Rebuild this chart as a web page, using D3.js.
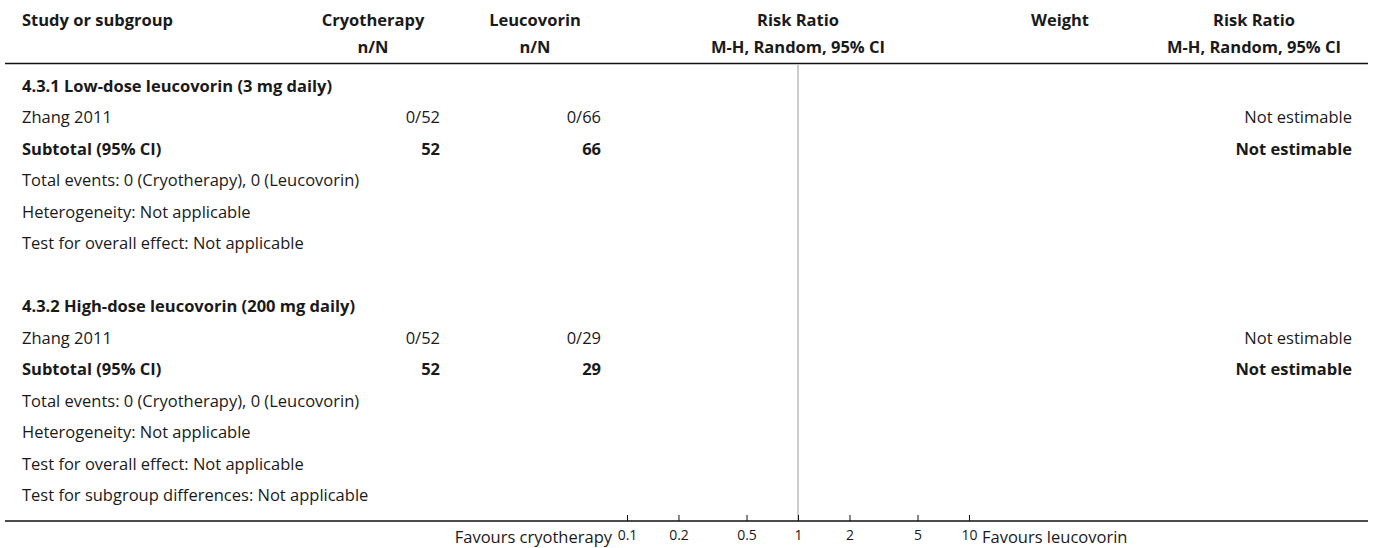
<!DOCTYPE html>
<html>
<head>
<meta charset="utf-8">
<script src="https://cdn.jsdelivr.net/npm/d3@7"></script>
<style>
  body { margin: 0; background: #fff; }
  svg text { font-family: "Open Sans", "Noto Sans", sans-serif; fill: #1a1a1a; }
</style>
</head>
<body>
<div id="chart"></div>
<script>
// data
const subgroups = ["4.3.1 Low-dose leucovorin (3 mg daily)", "4.3.2 High-dose leucovorin (200 mg daily)"];
const studies = ["Zhang 2011", "Zhang 2011"];
const cryoEvents = [0, 0];
const cryoTotals = [52, 52];
const leucoEvents = [0, 0];
const leucoTotals = [66, 29];
const estimates = ["Not estimable", "Not estimable"];
const rrTicks = [0.1, 0.2, 0.5, 1, 2, 5, 10];

const width = 1373;
const height = 548;
const fs = 16.5;

const svg = d3.select("#chart").append("svg")
    .attr("width", width)
    .attr("height", height);

// column positions
const col = { study: 22, cryo: 440, leuco: 601, rrHead: 798, weight: 1060, rrText: 1254, est: 1352 };

// header
const head = svg.append("g").attr("font-weight", "bold").attr("font-size", fs);
head.append("text").attr("x", col.study).attr("y", 26).text("Study or subgroup");
[[373, "Cryotherapy", "n/N"], [535, "Leucovorin", "n/N"], [col.rrHead, "Risk Ratio", "M-H, Random, 95% CI"],
 [col.weight, "Weight", ""], [col.rrText, "Risk Ratio", "M-H, Random, 95% CI"]].forEach(h => {
    head.append("text").attr("x", h[0]).attr("y", 26).attr("text-anchor", "middle").text(h[1]);
    head.append("text").attr("x", h[0]).attr("y", 53).attr("text-anchor", "middle").text(h[2]);
});

svg.append("line")
    .attr("x1", 5).attr("x2", 1368).attr("y1", 63.5).attr("y2", 63.5)
    .attr("stroke", "#111").attr("stroke-width", 1.5);

// build rows from the arrays
const rows = [];
subgroups.forEach((g, i) => {
    if (i > 0) rows.push({ type: "blank" });
    rows.push({ type: "group", label: g });
    rows.push({ type: "study", label: studies[i], a: `${cryoEvents[i]}/${cryoTotals[i]}`, b: `${leucoEvents[i]}/${leucoTotals[i]}`, est: estimates[i] });
    rows.push({ type: "subtotal", label: "Subtotal (95% CI)", a: cryoTotals[i], b: leucoTotals[i], est: estimates[i] });
    rows.push({ type: "note", label: `Total events: ${cryoEvents[i]} (Cryotherapy), ${leucoEvents[i]} (Leucovorin)` });
    rows.push({ type: "note", label: "Heterogeneity: Not applicable" });
    rows.push({ type: "note", label: "Test for overall effect: Not applicable" });
});
rows.push({ type: "note", label: "Test for subgroup differences: Not applicable" });

const y = d3.scaleLinear().domain([0, rows.length - 1]).range([86, 495.5]);

const row = svg.selectAll(".row")
    .data(rows)
    .enter()
    .append("g")
    .attr("class", "row")
    .attr("transform", (d, i) => `translate(0,${y(i)})`)
    .attr("font-size", fs)
    .attr("font-weight", d => (d.type === "group" || d.type === "subtotal") ? "bold" : "normal");

row.append("text")
    .attr("x", col.study)
    .attr("dy", "0.35em")
    .text(d => d.label || "");

row.filter(d => d.a !== undefined).append("text")
    .attr("x", col.cryo).attr("dy", "0.35em").attr("text-anchor", "end")
    .text(d => d.a);
row.filter(d => d.b !== undefined).append("text")
    .attr("x", col.leuco).attr("dy", "0.35em").attr("text-anchor", "end")
    .text(d => d.b);
row.filter(d => d.est !== undefined).append("text")
    .attr("x", col.est).attr("dy", "0.35em").attr("text-anchor", "end")
    .text(d => d.est);

// forest plot axis
const x = d3.scaleLog().domain([0.1, 10]).range([627, 969]);
const axisY = 521;

svg.append("line")
    .attr("x1", x(1)).attr("x2", x(1)).attr("y1", 65).attr("y2", axisY)
    .attr("stroke", "#999").attr("stroke-width", 1);

svg.append("line")
    .attr("x1", 5).attr("x2", 1368).attr("y1", axisY).attr("y2", axisY)
    .attr("stroke", "#111").attr("stroke-width", 1.5);

const axis = svg.append("g")
    .attr("transform", `translate(0,${axisY})`)
    .call(d3.axisBottom(x).tickValues(rrTicks).tickFormat(d3.format("")).tickSizeInner(-6).tickSizeOuter(0).tickPadding(9));
axis.select(".domain").remove();
axis.selectAll(".tick line").attr("stroke", "#111");
axis.selectAll(".tick text")
    .style("font-size", "14px")
    .style("font-family", "'Open Sans', 'Noto Sans', sans-serif")
    .attr("fill", "#1a1a1a");

svg.append("text").attr("x", 612).attr("y", 543).attr("text-anchor", "end").attr("font-size", fs).text("Favours cryotherapy");
svg.append("text").attr("x", 982).attr("y", 543).attr("font-size", fs).text("Favours leucovorin");
</script>
</body>
</html>
